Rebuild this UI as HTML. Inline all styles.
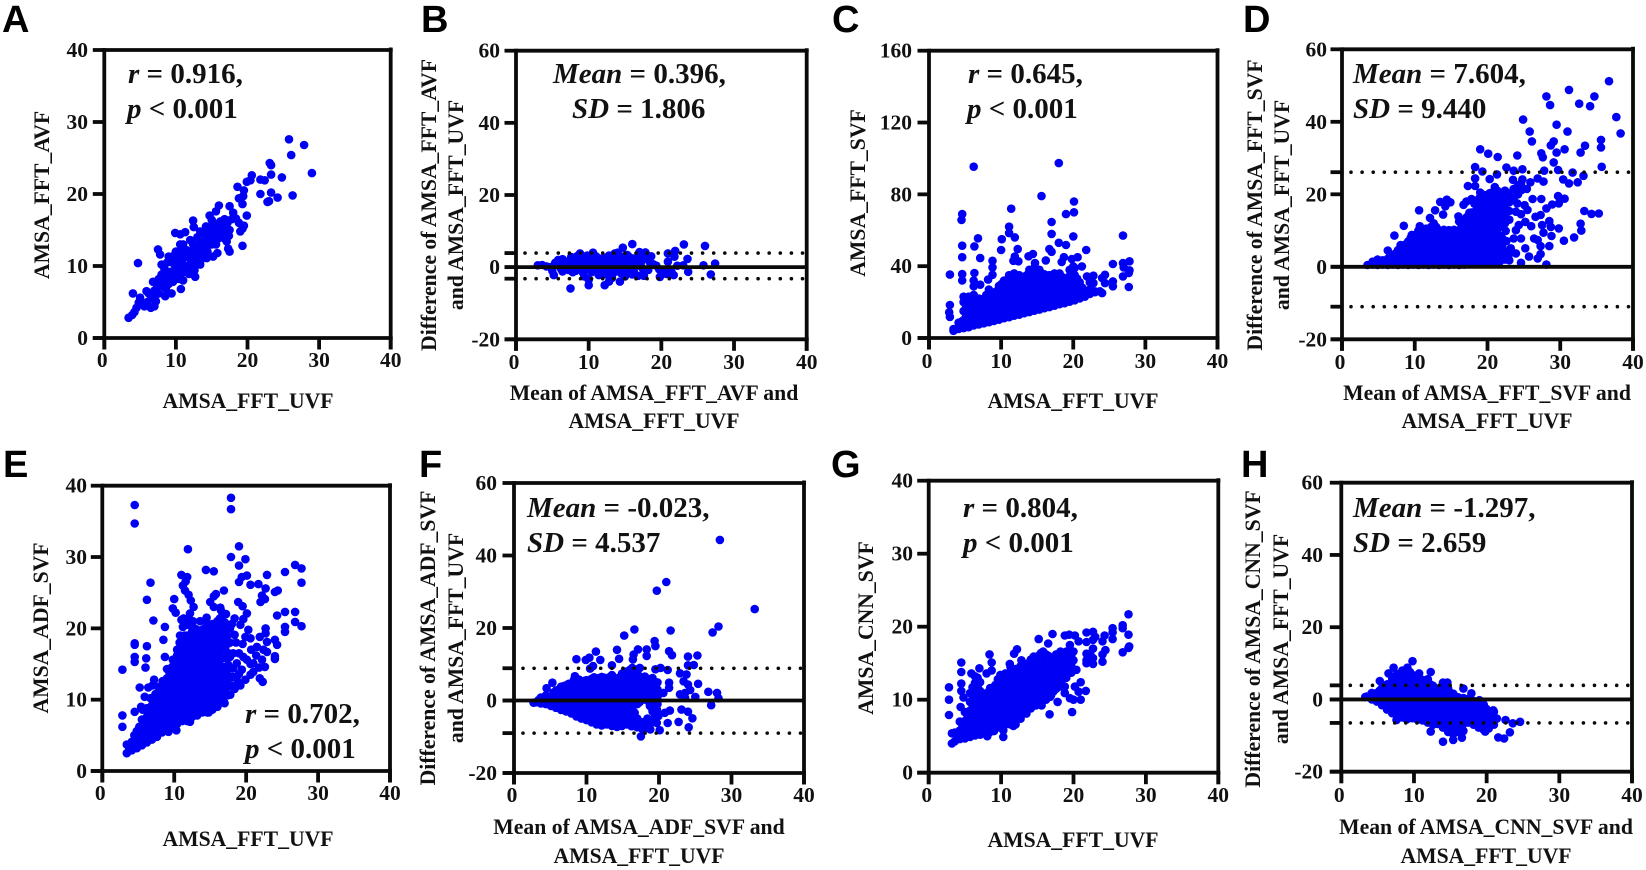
<!DOCTYPE html>
<html lang="en">
<head>
<meta charset="utf-8">
<title>AMSA agreement scatter and Bland-Altman plots</title>
<style>
html,body{margin:0;padding:0;background:#fff;width:1646px;height:870px;overflow:hidden}
svg{display:block}
text{font-family:"Liberation Serif",serif;font-weight:bold;fill:#111}
.letter{font-family:"Liberation Sans",sans-serif;font-size:38px;fill:#000}
.tick{font-size:21.5px}
.title{font-size:21.7px}
.annot{font-size:29px}
</style>
</head>
<body>
<svg id="figure" width="1646" height="870" viewBox="0 0 1646 870" xmlns="http://www.w3.org/2000/svg"></svg>
<script>
const xTicks=[0,10,20,30,40];
const yTicksScatter=[0,10,20,30,40];
const yTicksWide=[0,40,80,120,160];
const yTicksDiff=[-20,0,20,40,60];
const limitsB=[3.9,-3.2];
const limitsD=[26.1,-11];
const limitsF=[8.9,-9];
const limitsH=[3.9,-6.5];
const seriesA=[[25.8,27.6],[27.9,26.8],[26.1,25.4],[29,22.9],[26.3,19.8],[24.2,19.5],[22.8,18.9],[23,19],[23.3,20.2],[21.8,20],[24.8,22.3],[23.3,22.7],[23.1,24.3],[23.3,24],[22.4,21.9],[21.8,22],[20.6,22.6],[20.4,21.9],[19.9,21.7],[19.5,20.5],[18.6,21],[18.8,19.4],[19.4,19.7],[19.3,18.6],[19.9,17],[19.3,12.8],[19.5,15.6],[19,14.8],[17.5,18.3],[18,17.4],[17.5,12],[17.3,12.4],[17.1,13.4],[15.9,13.8],[15.8,11.8],[15.2,11.3],[14.3,11.1],[16,18.4],[15.6,17.6],[14.7,17],[12.4,16.3],[12.5,15.4],[9.9,14.6],[10.6,14.4],[11.3,14.7],[7.5,12.3],[7.8,11.6],[4.7,10.4],[4,6.2],[12.7,8.5],[10.7,6.8],[8.5,5.8],[3.4,2.8],[3.9,3.2],[4.2,3.6],[4.5,4.2],[4.8,4.9],[5.2,4.7],[5.6,4.4],[6,5],[6.2,6.2],[6.6,5.5],[6.5,4.2],[7,4.4],[7.2,5.1],[7,6.6],[7.4,7.2],[7.6,8.2],[8,8.8],[8.2,7.2],[8.6,6.8],[8.8,8],[8.4,9.6],[8,10.2],[8.5,9],[9,7.5],[9.4,6.2],[9.6,7.8],[9.2,9.2],[9.5,10.5],[9,11.3],[9.8,11.5],[10,9],[10.2,10],[10.4,11],[10.6,12],[10.8,9],[11,8],[11,10.2],[11.2,11.2],[11.5,12.2],[11.4,9.4],[11.8,8.9],[12,10],[12,11],[12.2,12],[12.4,13],[12.6,10],[12.8,11],[13,12],[13.2,13],[13,14],[13.4,10.2],[13.6,11],[13.8,12.5],[14,13.5],[14,14.5],[14.2,15.5],[14.4,12],[14.6,13],[14.8,14],[14.8,15.5],[15,16.4],[15.2,15],[15.4,14],[15.6,15.2],[16,15],[16.2,14.5],[16.5,15.5],[16.8,16.5],[17.2,16],[17.5,15],[17.8,16.5],[18.4,16.6],[18.8,16],[19.3,15.2],[17.4,14.2],[16.8,13.8]];
const coreA=[[10,12],[8.8,10.5],[7.6,6.2],[6.8,7.8],[5.9,6.5],[5,5.6],[11,13],[12,13.6],[13.4,14.8],[15,13],[14,11.6],[12.6,9.4],[11.6,10],[9.6,9.2],[10.4,8.2],[10.8,10.6],[11.8,11.6],[12.8,12.6],[13.6,13.4],[12.2,10.6],[13.2,11.6],[14.2,12.8],[9.4,8.4],[8.2,8.2],[10.4,9.4],[11.4,11.8],[12.6,11.8],[14.6,14.6],[15.4,15.8],[16.2,16.2],[15.6,13],[16.6,14.8],[17,15.2],[13.4,12.6],[14.4,14],[7.8,7.4],[7,5.8],[9.8,10.2],[10.6,13]];
const seriesB=[[16,6.4],[23.1,6.3],[26,5.9],[14.7,5.4],[21.9,4.5],[20.9,3.8],[21.8,2.9],[23.6,2.3],[20.9,1.5],[27.4,1],[25.8,.5],[23,.5],[22.2,.4],[23.7,-1.3],[26.8,-2],[21.7,-2.2],[20.7,-1.9],[19.8,-2.7],[7.5,-5.9],[10,-5],[12.2,-5],[12.8,-4],[14.3,-4],[3,.5],[3.6,.6],[4.2,.2],[4.8,0],[5,-1],[5.2,-2.2],[5.4,1.2],[5.8,2],[6,.5],[6.2,-.5],[6.4,2.2],[6.6,1],[7,0],[7.2,-.8],[7.4,1.8],[7.6,2.8],[8,.6],[8.2,-1],[8.4,2],[8.6,3.2],[8.8,3.8],[9,.5],[9.2,-1.5],[9.4,-2.6],[9.5,1.5],[9.8,3.2],[10,-3.5],[10.2,.2],[10.4,-1.4],[10.6,2],[10.6,4],[11,3],[11,.8],[11.2,-1],[11.4,-2.2],[11.8,1.6],[12,-.4],[12.2,2.6],[12.4,-2],[12.6,.8],[12.8,3.2],[13,-1.2],[13.2,-3],[13.4,1.8],[13.6,3.8],[13.8,-.2],[14,4],[14.2,1],[14.4,-1.6],[14.6,2.6],[14.9,.2],[15,-2.6],[15.3,3.4],[15.6,1.2],[15.8,-1],[16,-2],[16.2,2.4],[16.5,.4],[16.8,-2.4],[17,4.2],[17.3,1.8],[17.5,-.6],[17.6,-2.4],[17.8,4.1],[18,2.8],[18.2,-.8],[18.6,3],[18.9,.8],[19.3,.4],[19.7,-.6],[20.3,-1.4],[21,-1.6],[21.4,-1.4]];
const coreB=[[6.8,-.2],[7.8,1],[8.8,-.4],[9.6,.6],[10.8,-.2],[11.6,.4],[12.2,1.2],[13,1],[13.5,0],[14,-.8],[14.5,.4],[15.2,1],[15.4,-.4],[16.6,1.2],[17.2,.2],[18.4,1.4],[15.6,2.8],[14.4,3],[11.5,2.4],[9,2.4],[7.8,-1.4],[6.4,-1.2],[8.2,.4],[10,1.4],[11,2],[12.6,2],[13.8,1.8],[15,1.8],[16,.2],[17,3],[9.5,-.6],[10.6,-1],[12,-1.4],[13.4,-1.6],[14.8,-1],[16.2,-1],[6,1.2],[7.2,1.6],[8.4,3]];
const seriesC=[[6.2,95.4],[18,97.4],[15.6,79],[20.1,76],[20.1,70],[19,69],[11.4,72],[4.6,69],[4.5,65.7],[17,64.6],[11.1,62],[11.1,58.4],[11.9,56],[17,58],[20,56.6],[26.9,57],[6.8,55.5],[10.1,55],[18,53],[19,51.8],[4.6,51.4],[6.3,51],[10,49],[12.3,49.5],[16.7,49.5],[17,48],[21.8,49],[4.6,45],[7.1,44.5],[8.8,43],[13.8,45.5],[14.4,46.8],[11.9,45.4],[11.7,43],[12.4,42.7],[14.7,41.7],[16.2,43.2],[18.7,45],[18.4,42.3],[19.8,44],[20.6,45],[25.5,41.2],[26.9,41.7],[27.8,42.7],[27,39.3],[27.8,37.7],[26.9,34.3],[27.7,36.2],[27.7,28.4],[25.5,31.5],[25.5,28.8],[24.4,35.2],[24,33.4],[24.4,30.6],[24,25],[22.8,34.7],[21.9,34.3],[22.8,30.6],[21.2,39.9],[20,39.9],[2.9,35.3],[4.6,35.6],[4.6,32],[6.3,36.2],[6.2,32],[6.2,28.8],[7.1,29.7],[8.2,32.5],[8.8,35.2],[8.8,39.3],[2.9,18.4],[2.8,14.3],[2.9,11.7],[3.4,4],[3.4,5],[4.1,5],[4.1,8.5],[4.8,5.5],[4.8,10],[4.8,15],[4.8,20],[4.8,23],[5.5,6],[5.5,10.5],[5.5,15.5],[5.5,20.5],[5.5,23],[6.2,7],[6.2,11.8],[6.2,16.6],[6.2,21.4],[6.2,24],[6.9,7.5],[6.9,12],[6.9,17],[6.9,22],[7.6,8.2],[7.6,13],[7.6,17.8],[7.6,22],[8.3,8.8],[8.3,13.6],[8.3,18.4],[8.3,23],[8.3,27],[9,9.5],[9,14.3],[9,19],[9,24],[9.7,10.2],[9.7,15],[9.7,19.8],[9.7,24.6],[9.7,29],[10.4,11],[10.4,15.8],[10.4,20.6],[10.4,25.4],[10.4,30.2],[10.4,32],[11.1,11.6],[11.1,16.4],[11.1,21.2],[11.1,26],[11.1,30.8],[11.1,35],[11.8,12.4],[11.8,17.2],[11.8,22],[11.8,26.8],[11.8,31.6],[11.8,36],[12.5,13],[12.5,17.8],[12.5,22.6],[12.5,27.4],[12.5,32.2],[12.5,35],[13.2,13.8],[13.2,18.6],[13.2,23.4],[13.2,28.2],[13.2,33],[13.9,14.4],[13.9,19.2],[13.9,24],[13.9,28.8],[13.9,33.6],[13.9,38],[14.6,15.2],[14.6,20],[14.6,24.8],[14.6,29.6],[14.6,34.4],[14.6,39],[15.3,15.8],[15.3,20.6],[15.3,25.4],[15.3,30.2],[15.3,35],[15.3,38],[16,16.6],[16,21.4],[16,26.2],[16,31],[16,35.5],[16.7,17.2],[16.7,22],[16.7,26.8],[16.7,31.6],[16.7,35],[17.4,18],[17.4,22.8],[17.4,27.6],[17.4,32.4],[17.4,36],[18.1,18.8],[18.1,23.6],[18.1,28.4],[18.1,33],[18.1,36],[18.8,19.4],[18.8,24],[18.8,29],[18.8,33],[19.5,20.2],[19.5,25],[19.5,30],[19.5,34.5],[19.5,38],[20.2,21],[20.2,25.8],[20.2,30.5],[20.2,35],[20.2,39],[20.9,22],[20.9,26.5],[20.9,31],[21.6,23],[21.6,25.5],[22.3,24.5],[22.3,27],[22.3,31],[23,25.5],[23,26],[23.7,26]];
const coreC=[[3.75,5],[4.45,6.5],[4.45,9],[5.15,7.5],[5.15,12],[5.15,17],[5.15,21.5],[5.85,8.5],[5.85,13],[5.85,18],[5.85,22],[6.55,9],[6.55,14],[6.55,19],[7.25,10],[7.25,14.5],[7.25,19.5],[7.95,10.5],[7.95,15.5],[7.95,20],[7.95,24],[8.65,11],[8.65,16],[8.65,21],[8.65,25],[9.35,12],[9.35,16.5],[9.35,21.5],[9.35,26],[10.05,12.5],[10.05,17.5],[10.05,22],[10.05,27],[10.05,30],[10.75,13.5],[10.75,18],[10.75,23],[10.75,28],[10.75,32],[11.45,14],[11.45,19],[11.45,23.5],[11.45,28.5],[11.45,33],[12.15,15],[12.15,19.5],[12.15,24.5],[12.15,29],[12.15,34],[12.85,15.5],[12.85,20.5],[12.85,25],[12.85,30],[12.85,34],[13.55,16],[13.55,21],[13.55,26],[13.55,30.5],[13.55,35],[14.25,17],[14.25,21.5],[14.25,26.5],[14.25,31],[14.25,36],[14.95,17.5],[14.95,22.5],[14.95,27],[14.95,32],[14.95,36.5],[15.65,18],[15.65,23],[15.65,28],[15.65,32.5],[15.65,36],[16.35,19],[16.35,24],[16.35,28.5],[16.35,33],[17.05,20],[17.05,24.5],[17.05,29],[17.05,34],[17.75,20.5],[17.75,25],[17.75,30],[17.75,34],[18.45,21],[18.45,26],[18.45,30.5],[18.45,34],[19.15,22],[19.15,26.5],[19.15,31],[19.85,23],[19.85,27.5],[19.85,32],[19.85,36],[20.55,23.5],[20.55,28],[20.55,33],[21.25,24.5],[21.25,28],[21.95,25.5]];
const seriesD=[[36.7,51.2],[31.2,48.8],[34.7,47],[28.1,47],[28.6,44.6],[32.6,45],[34.1,44.3],[24.9,40.6],[37.7,41.3],[29.5,39.2],[31,37.3],[25.8,37.3],[38.3,36.8],[26.1,34.6],[35.6,35],[35.6,32.9],[29.1,34.6],[28.7,33.5],[33.4,33.4],[30.6,32.4],[29.5,31.5],[32.8,31.5],[27.4,31.3],[27.6,30.2],[24.1,30.7],[19,32.4],[20.1,31.2],[21.4,30.3],[29.1,28.8],[35.7,27.6],[29.7,26.7],[22.6,27.4],[18.3,27.5],[19.3,26.3],[24.8,26.9],[23.6,26.5],[27.8,26.5],[31.7,26],[21.3,25.5],[18.3,24.4],[20.3,24.2],[26.9,24.4],[27.7,23.5],[24.8,24.1],[23.5,24],[30.4,24.1],[33.2,25.1],[32.4,23.3],[31.2,23],[25.9,23.3],[17.3,22.3],[18.3,22.3],[19,20.5],[25.4,21.5],[24.7,21.2],[26.2,18.7],[27.4,18.7],[29.7,19.5],[30.6,18.8],[29.8,17.5],[28.9,17.2],[28.1,16.1],[33.3,15.4],[34.3,14.6],[35.3,14.7],[27.3,14.3],[26.6,13.8],[25.5,15.7],[24.6,14.5],[25.2,12.4],[26,11.2],[28.5,12.6],[27.5,11.5],[28.7,11],[29.8,10.6],[32.8,11.9],[32.9,10],[27.7,9.4],[28.8,8.5],[31.9,8.1],[30.5,7.2],[26.4,7.8],[26.9,7.4],[24.6,7.8],[23.6,7.8],[22.6,7.1],[22.5,9.9],[23.9,10.1],[24.3,11.5],[27.3,5.7],[28.5,5.7],[25.2,5.1],[23.2,5.1],[23.9,3.7],[25.7,2.8],[26.9,2.3],[27.3,3.5],[24.6,1.1],[28.1,.6],[24.1,17.5],[25.1,17],[23.9,15.2],[10.6,15.6],[8.5,11.3],[7.2,8.6],[6.3,4.5],[9.6,8.8],[10.7,11.2],[12.1,13.5],[12.8,15.6],[13.5,17.9],[14.4,18.5],[14.9,17.8],[14.2,16.7],[13.9,14.4],[16,13.9],[16.7,17.1],[17.8,18.7],[17.1,18],[3.5,.5],[4.2,.6],[4.2,1.4],[4.9,.5],[4.9,2],[5.6,.6],[5.6,1.8],[6.3,.5],[6.3,2.2],[7,.6],[7,3],[7.7,.5],[7.7,2.9],[7.7,4.6],[8.4,.6],[8.4,3],[8.4,5.4],[9.1,.5],[9.1,2.9],[9.1,5.3],[9.1,7],[9.8,.6],[9.8,3],[9.8,5.4],[9.8,7.8],[10.5,.5],[10.5,2.9],[10.5,5.3],[10.5,7.7],[10.5,10],[11.2,.6],[11.2,3],[11.2,5.4],[11.2,7.8],[11.2,10.2],[11.9,.5],[11.9,2.9],[11.9,5.3],[11.9,7.7],[11.9,10.1],[12.6,.6],[12.6,3],[12.6,5.4],[12.6,7.8],[12.6,10.2],[12.6,12],[13.3,.5],[13.3,2.9],[13.3,5.3],[13.3,7.7],[13.3,10.1],[14,.6],[14,3],[14,5.4],[14,7.8],[14,10.2],[14.7,.5],[14.7,2.9],[14.7,5.3],[14.7,7.7],[14.7,10.1],[15.4,.6],[15.4,3],[15.4,5.4],[15.4,7.8],[15.4,10.2],[16.1,.5],[16.1,2.9],[16.1,5.3],[16.1,7.7],[16.1,10.1],[16.1,12.5],[16.8,.6],[16.8,3],[16.8,5.4],[16.8,7.8],[16.8,10.2],[16.8,12.6],[17.5,.7],[17.5,2.9],[17.5,5.3],[17.5,7.7],[17.5,10.1],[17.5,12.5],[17.5,14.9],[18.2,.8],[18.2,3],[18.2,5.4],[18.2,7.8],[18.2,10.2],[18.2,12.6],[18.2,15],[18.2,17.4],[18.9,.9],[18.9,2.9],[18.9,5.3],[18.9,7.7],[18.9,10.1],[18.9,12.5],[18.9,14.9],[18.9,17.3],[18.9,19],[19.6,1],[19.6,3],[19.6,5.4],[19.6,7.8],[19.6,10.2],[19.6,12.6],[19.6,15],[19.6,17.4],[19.6,19.8],[20.3,1.2],[20.3,3.5],[20.3,5.9],[20.3,8.3],[20.3,10.7],[20.3,13.1],[20.3,15.5],[20.3,17.9],[20.3,20.3],[21,1.4],[21,3.2],[21,5.6],[21,8],[21,10.4],[21,12.8],[21,15.2],[21,17.6],[21,20],[21,22],[21.7,1.5],[21.7,3.7],[21.7,6.1],[21.7,8.5],[21.7,11],[21.7,13.3],[21.7,15.7],[21.7,18.1],[21.7,20.5],[22.4,2],[22.4,4.2],[22.4,12],[22.4,14.4],[22.4,16.8],[22.4,19.2],[22.4,21],[23,1.8],[23,3.6],[23,13],[23,15.4],[23,17.8],[23,20.2],[23.6,19],[23.6,21.5],[24.2,20],[24.2,22.5],[24.6,23]];
const coreD=[[5.25,1.2],[5.95,1.4],[6.65,1.4],[6.65,3.2],[7.35,1.7],[7.35,3.7],[8.05,1.7],[8.05,4.1],[8.05,6],[8.75,1.7],[8.75,4.1],[8.75,6.2],[9.45,1.7],[9.45,4.1],[9.45,6.5],[9.45,8],[10.15,1.7],[10.15,4.1],[10.15,6.5],[10.15,8.9],[10.85,1.7],[10.85,4.1],[10.85,6.5],[10.85,8.9],[11.55,1.7],[11.55,4.1],[11.55,6.5],[11.55,8.9],[11.55,10.5],[12.25,1.7],[12.25,4.1],[12.25,6.5],[12.25,8.9],[12.25,11],[12.95,1.7],[12.95,4.1],[12.95,6.5],[12.95,8.9],[12.95,11],[13.65,1.7],[13.65,4.1],[13.65,6.5],[13.65,9],[14.35,1.7],[14.35,4.1],[14.35,6.5],[14.35,9],[15.05,1.7],[15.05,4.1],[15.05,6.5],[15.05,9],[15.75,1.7],[15.75,4.1],[15.75,6.5],[15.75,9],[16.45,1.7],[16.45,4.1],[16.45,6.5],[16.45,8.9],[16.45,11.3],[17.15,1.7],[17.15,4.1],[17.15,6.5],[17.15,8.9],[17.15,11.3],[17.15,13.7],[17.85,1.7],[17.85,4.1],[17.85,6.5],[17.85,8.9],[17.85,11.3],[17.85,13.7],[17.85,15],[18.55,1.8],[18.55,4.1],[18.55,6.5],[18.55,8.9],[18.55,11.3],[18.55,13.7],[18.55,16],[19.25,2],[19.25,4.1],[19.25,6.5],[19.25,8.9],[19.25,11.3],[19.25,13.7],[19.25,16.1],[19.25,18],[19.95,2.2],[19.95,4.4],[19.95,6.8],[19.95,9.2],[19.95,11.6],[19.95,14],[19.95,16.4],[19.95,19],[20.65,2.4],[20.65,4.6],[20.65,7],[20.65,9.4],[20.65,11.8],[20.65,14.2],[20.65,16.6],[20.65,19],[20.65,20.5],[21.35,2.6],[21.35,4.4],[21.35,6.8],[21.35,9.2],[21.35,11.6],[21.35,14],[21.35,16.4],[21.35,18.8],[21.35,21],[22.05,3],[22.05,5.4],[22.05,7.8],[22.05,13],[22.05,15.4],[22.05,17.8],[22.05,20]];
const seriesE=[[4.5,37.3],[4.5,34.7],[17.9,38.3],[17.9,36.7],[11.9,31.1],[19,31.5],[17.9,30],[19.9,29.7],[19,28.8],[26.8,28.9],[27.7,28.4],[25.4,27.9],[27.7,26.4],[22.9,27.5],[20.1,27.4],[19.4,27.2],[19,26.5],[20.6,26.1],[21.7,26.2],[22.7,25.6],[24,25.1],[24.4,25.3],[22.2,24.6],[22.6,24.1],[22,23.7],[14.4,28.2],[15.5,28],[11,27.5],[11.8,27.2],[11.6,26.6],[11.2,26],[6.7,26.4],[11.5,25.3],[12,24.7],[10,24.1],[6.2,24],[12.3,23.9],[12.7,23],[9.8,22.8],[10.2,22.2],[12.2,22.1],[11.3,21.4],[7.1,21.1],[16.9,25.3],[15.8,24.8],[15.5,24.5],[15,23.7],[15.5,23],[16.4,22.9],[18.9,23.7],[19.5,23.1],[20.1,22.1],[25.4,22.3],[26.8,22.3],[26.8,20.9],[27.7,20.3],[25.4,20.2],[25.4,19.5],[24.3,21.8],[22.7,20],[18.4,21.4],[19.6,21.3],[19.2,20.5],[8.7,20.2],[8.5,18.4],[4.5,17.9],[4.5,17.7],[6.2,17.5],[8.7,16],[4.5,16],[4.5,15.3],[6.1,15.8],[6,14.5],[2.8,14.2],[2.8,7.8],[2.8,6.2],[5.2,11.7],[6.4,11.7],[5.9,10.4],[7.2,12.8],[7.8,11.8],[4.5,8.3],[5.6,8.6],[20.3,19.8],[19.9,18.8],[18.4,19.1],[19.5,17.8],[20.6,18.6],[21.9,18.8],[22.7,19.3],[21.5,17.4],[22.4,17],[22.9,18.1],[24,18.4],[24.3,17.7],[24,16.1],[24,15.7],[22.9,16.7],[22.2,15.6],[22.6,14.6],[21,15.1],[20.1,15.6],[18.7,15.1],[17.3,15.9],[17.5,14.9],[18.2,14.4],[19.4,14.2],[21,13.9],[21.9,13],[22.3,12.5],[19.9,12.8],[18.9,12.5],[18.2,13.2],[17.8,10.7],[16.3,9.5],[14.8,8.2],[12.2,6.9],[10.3,5.7],[9.2,5.5],[3.4,2.5],[3.4,3.7],[4.1,2.9],[4.1,4.1],[4.8,3.2],[4.8,4.4],[4.8,5.6],[5.5,3.6],[5.5,4.8],[5.5,6],[5.5,7.2],[6.2,4],[6.2,5.2],[6.2,6.4],[6.2,7.6],[6.2,8.8],[6.9,4.4],[6.9,5.6],[6.9,6.8],[6.9,8],[6.9,9.2],[7.6,4.8],[7.6,6],[7.6,7.2],[7.6,8.4],[7.6,9.6],[8.3,5.4],[8.3,6.6],[8.3,7.8],[8.3,9],[8.3,10.2],[8.3,11.4],[9,5.8],[9,7],[9,8.2],[9,9.4],[9,10.6],[9,11.8],[9,13],[9.7,6.2],[9.7,7.4],[9.7,8.6],[9.7,9.8],[9.7,11],[9.7,12.2],[9.7,13.4],[9.7,14.6],[10.4,6.6],[10.4,7.8],[10.4,9],[10.4,10.2],[10.4,11.4],[10.4,12.6],[10.4,13.8],[10.4,15],[10.4,16.2],[10.4,17],[11.1,7],[11.1,8.2],[11.1,9.4],[11.1,10.6],[11.1,11.8],[11.1,13],[11.1,14.2],[11.1,15.4],[11.1,16.6],[11.1,17.6],[11.8,7],[11.8,8.2],[11.8,9.4],[11.8,10.6],[11.8,11.8],[11.8,13],[11.8,14.2],[11.8,15.4],[11.8,16.6],[11.8,17.8],[11.8,19],[12.5,7.6],[12.5,8.8],[12.5,10],[12.5,11.2],[12.5,12.4],[12.5,13.6],[12.5,14.8],[12.5,16],[12.5,17.2],[12.5,18.4],[12.5,19.6],[13.2,7.8],[13.2,9],[13.2,10.2],[13.2,11.4],[13.2,12.6],[13.2,13.8],[13.2,15],[13.2,16.2],[13.2,17.4],[13.2,18.6],[13.2,19.8],[13.9,8.2],[13.9,9.4],[13.9,10.6],[13.9,11.8],[13.9,13],[13.9,14.2],[13.9,15.4],[13.9,16.6],[13.9,17.8],[13.9,19],[13.9,19.8],[14.6,8.2],[14.6,9.4],[14.6,10.6],[14.6,11.8],[14.6,13],[14.6,14.2],[14.6,15.4],[14.6,16.6],[14.6,17.8],[14.6,19],[14.6,20.6],[15.3,8.6],[15.3,9.8],[15.3,11],[15.3,12.2],[15.3,13.4],[15.3,14.6],[15.3,15.8],[15.3,17],[15.3,18.2],[15.3,19.4],[15.3,20.6],[16,9],[16,10.2],[16,11.4],[16,12.6],[16,13.8],[16,15],[16,16.2],[16,17.4],[16,18.6],[16,19.8],[16,21],[16.7,9.8],[16.7,11],[16.7,12.2],[16.7,13.4],[16.7,14.6],[16.7,15.8],[16.7,17],[16.7,18.2],[16.7,19.4],[16.7,20.6],[16.7,21.8],[17.4,10.6],[17.4,11.8],[17.4,13],[17.4,14.2],[17.4,16.6],[17.4,17.8],[17.4,19],[17.4,20.5],[18,12],[18,13.2],[18,20.6]];
const coreE=[[3.75,3.1],[4.45,3.7],[4.45,5],[5.15,3.8],[5.15,5],[5.15,6.2],[5.85,4.5],[5.85,5.6],[5.85,6.8],[6.55,4.8],[6.55,6],[6.55,7.2],[6.55,8.4],[7.25,5],[7.25,6.2],[7.25,7.4],[7.25,8.6],[7.25,9.8],[7.95,5.5],[7.95,6.7],[7.95,7.9],[7.95,9.1],[7.95,10.3],[8.65,6.2],[8.65,7.4],[8.65,8.6],[8.65,9.8],[8.65,11],[8.65,12.2],[9.35,6.6],[9.35,7.8],[9.35,9],[9.35,10.2],[9.35,11.4],[9.35,12.6],[9.35,13.8],[10.05,7],[10.05,8.2],[10.05,9.4],[10.05,10.6],[10.05,11.8],[10.05,13],[10.05,14.2],[10.05,15.2],[10.75,7.4],[10.75,8.6],[10.75,9.8],[10.75,11],[10.75,12.2],[10.75,13.4],[10.75,14.6],[10.75,15.8],[10.75,17],[10.75,18],[11.45,7.6],[11.45,8.8],[11.45,10],[11.45,11.2],[11.45,12.4],[11.45,13.6],[11.45,14.8],[11.45,16],[11.45,17.2],[11.45,18.4],[11.45,19],[12.15,8],[12.15,9.2],[12.15,10.4],[12.15,11.6],[12.15,12.8],[12.15,14],[12.15,15.2],[12.15,16.4],[12.15,17.6],[12.15,18.8],[12.15,20.5],[12.85,8.2],[12.85,9.4],[12.85,10.6],[12.85,11.8],[12.85,13],[12.85,14.2],[12.85,15.4],[12.85,16.6],[12.85,17.8],[12.85,19],[12.85,20],[13.55,8.6],[13.55,9.8],[13.55,11],[13.55,12.2],[13.55,13.4],[13.55,14.6],[13.55,15.8],[13.55,17],[13.55,18.2],[13.55,19.4],[14.25,8.8],[14.25,10],[14.25,11.2],[14.25,12.4],[14.25,13.6],[14.25,14.8],[14.25,16],[14.25,17.2],[14.25,18.4],[14.25,20],[14.95,9],[14.95,10.2],[14.95,11.4],[14.95,12.6],[14.95,13.8],[14.95,15],[14.95,16.2],[14.95,17.4],[14.95,18.6],[14.95,19.8],[15.65,9.4],[15.65,10.6],[15.65,11.8],[15.65,13],[15.65,14.2],[15.65,15.4],[15.65,16.6],[15.65,17.8],[15.65,19],[15.65,20.2],[16.35,10],[16.35,11.2],[16.35,12.4],[16.35,13.6],[16.35,14.8],[16.35,16],[16.35,17.2],[16.35,18.4],[16.35,19.6],[16.35,21.4],[17.05,10.8],[17.05,12],[17.05,13.2],[17.05,14.4],[17.05,17.2],[17.05,18.4],[17.05,19.6],[17.05,20.8],[17.75,12],[17.75,13.2],[17.75,14.4],[17.75,16],[17.75,18],[17.75,20],[10.8,19],[11.2,20.2],[11,21.2],[11.8,20.5],[12,21],[12.6,21],[13.6,21],[14.5,21.5],[16.5,22.5],[17.2,22],[18.6,18],[19,16.5],[18.2,16.5],[19.6,16],[19,13.6],[20.6,15],[20.6,13.5],[19.2,12],[18.4,11.5],[17,9.5],[21.4,16.2],[20.7,17],[21.8,14.5],[9.8,15.6],[9,14.3],[8.4,12.6],[8,11],[7.4,10.8],[6.7,10.2],[5.4,9],[7,12]];
const seriesF=[[28.4,44.3],[21,32.7],[19.7,30.3],[33.2,25.2],[28.2,20.4],[27.4,18.8],[21.6,19.3],[16.6,19.6],[15.2,17.9],[19.4,16.4],[19.5,15],[18.3,14.1],[17.1,14.1],[14.2,14],[11.3,13.5],[8.6,11.4],[9.9,11.2],[10.4,11.8],[11.9,11.2],[14.5,11.5],[16.5,12.7],[16.4,11.3],[18.3,12.3],[21.4,13.6],[21.8,12.5],[24,12.1],[25.3,12.4],[24,9.7],[24.8,9.8],[10.5,8.8],[10.9,9.5],[13.5,9.7],[20.2,9],[21.2,8.4],[19.5,8.6],[22.9,7.5],[23.8,7.2],[23.4,5.3],[24,4.4],[25.4,4.6],[21.4,4.9],[21.4,3.5],[26.8,2.4],[28,2.1],[28.2,.6],[27.2,-1.3],[22.9,1.7],[23.6,2.1],[23.6,.7],[24.3,2.9],[25,1],[23.1,-2.5],[24,-3.1],[24.6,-4.9],[22.7,-5.9],[24.1,-7.4],[21.5,-2.8],[20.8,-3.4],[21.2,-6.2],[20.1,-8.2],[18.8,-8],[17.5,-9.9],[4.5,3.4],[5.3,4.9],[8.4,6.7],[19.7,4.9],[20.6,2.1],[19.7,-2.5],[19.9,-4.3],[19.7,-6.2],[18.3,-7.5],[16.2,-7.1],[14.2,-7.3],[2.7,-.6],[3.4,.1],[3,-.5],[3.7,-.8],[3.7,.8],[4.4,-1],[4.4,1.4],[5.1,-1.5],[5.1,.9],[5.8,-2],[5.8,.4],[5.8,2.8],[6.5,-2.6],[6.5,-.2],[6.5,2.2],[6.5,3.8],[7.2,-3],[7.2,-.6],[7.2,1.8],[7.2,4.2],[7.9,-3.6],[7.9,-1.2],[7.9,1.2],[7.9,3.6],[7.9,4.6],[8.6,-4.4],[8.6,-2],[8.6,.4],[8.6,2.8],[8.6,5.2],[9.3,-5],[9.3,-2.6],[9.3,-.2],[9.3,2.2],[9.3,4.6],[10,-5.4],[10,-3],[10,-.6],[10,1.8],[10,4.2],[10,5.6],[10.7,-6],[10.7,-3.6],[10.7,-1.2],[10.7,1.2],[10.7,3.6],[10.7,6],[11.4,-6.6],[11.4,-4.2],[11.4,-1.8],[11.4,.6],[11.4,3],[11.4,5.4],[12.1,-6.9],[12.1,-4.5],[12.1,-2.1],[12.1,.3],[12.1,2.7],[12.1,5.1],[12.1,6.5],[12.8,-6.6],[12.8,-4.2],[12.8,-1.8],[12.8,.6],[12.8,3],[12.8,5.4],[13.5,-7],[13.5,-4.6],[13.5,-2.2],[13.5,.2],[13.5,2.6],[13.5,5],[13.5,7],[14.2,-6.8],[14.2,-4.4],[14.2,-2],[14.2,.4],[14.2,2.8],[14.2,5.2],[14.9,-7],[14.9,-4.6],[14.9,-2.2],[14.9,.2],[14.9,2.6],[14.9,5],[14.9,7.4],[15.6,-6.6],[15.6,-4.2],[15.6,-1.8],[15.6,.6],[15.6,3],[15.6,5.4],[15.6,7.8],[16.3,-7],[16.3,-4.6],[16.3,-2.2],[16.3,.2],[16.3,2.6],[16.3,5],[16.3,7.4],[16.3,9],[17,-7.4],[17,-5],[17,-1],[17,.6],[17,3],[17,5.4],[17,7.8],[17.7,-7.8],[17.7,-6],[17.7,.2],[17.7,2.6],[17.7,5],[17.7,6.4],[18.4,-7],[18.4,-5],[18.4,0],[18.4,2],[18.4,4],[18.4,6],[19.1,-6],[19.1,-3],[19.1,-.6],[19.1,1.8],[19.1,4.2],[19.1,6.2],[19.8,-3.5],[19.8,-1],[19.8,1],[19.8,3],[19.8,5]];
const coreF=[[4.05,0],[4.75,-.4],[4.75,.9],[5.45,-1],[5.45,1.4],[5.45,2.2],[6.15,-1.4],[6.15,1],[6.15,3],[6.85,-2.2],[6.85,.2],[6.85,2.6],[6.85,4],[7.55,-2.4],[7.55,0],[7.55,2.4],[7.55,4.6],[8.25,-3],[8.25,-.6],[8.25,1.8],[8.25,4.2],[8.25,5.6],[8.95,-3.8],[8.95,-1.4],[8.95,1],[8.95,3.4],[8.95,5.8],[9.65,-4.2],[9.65,-1.8],[9.65,.6],[9.65,3],[9.65,5.4],[10.35,-4.6],[10.35,-2.2],[10.35,.2],[10.35,2.6],[10.35,5],[11.05,-5.2],[11.05,-2.8],[11.05,-.4],[11.05,2],[11.05,4.4],[11.05,6.4],[11.75,-5.4],[11.75,-3],[11.75,-.6],[11.75,1.8],[11.75,4.2],[11.75,6.2],[12.45,-5.7],[12.45,-3.3],[12.45,-.9],[12.45,1.5],[12.45,3.9],[12.45,6.3],[13.15,-5.4],[13.15,-3],[13.15,-.6],[13.15,1.8],[13.15,4.2],[13.15,6.4],[13.85,-5.8],[13.85,-3.4],[13.85,-1],[13.85,1.4],[13.85,3.8],[13.85,6.2],[14.55,-5.6],[14.55,-3.2],[14.55,-.8],[14.55,1.6],[14.55,4],[14.55,6.4],[15.25,-5.8],[15.25,-3.4],[15.25,-1],[15.25,1.4],[15.25,3.8],[15.25,6.2],[15.25,8],[15.95,-5.4],[15.95,-3],[15.95,-.6],[15.95,1.8],[15.95,4.2],[15.95,6.6],[15.95,8.4],[16.65,-5.8],[16.65,-3.4],[16.65,-1],[16.65,1.4],[16.65,3.8],[16.65,6.2],[16.65,8.6],[17.35,-6.2],[17.35,-.4],[17.35,1.8],[17.35,4.2],[17.35,6.6],[17.35,9],[18.05,-6.6],[18.05,.6],[18.05,3],[18.05,5.2],[18.05,6.6],[18.75,-5.5],[18.75,-1.5],[18.75,1],[18.75,3],[18.75,5],[19.45,-4.5],[19.45,-2],[19.45,0],[19.45,2.4],[19.45,4.6]];
const seriesG=[[27.6,21.7],[26.8,20.2],[26.8,19.8],[25.4,19.8],[25.4,19.2],[25.4,18.3],[27.6,18.9],[27.7,17.3],[27.6,17.1],[26.8,16.5],[24.3,18.8],[24,18],[24.4,16.8],[24,16.2],[24,15.2],[22.7,19.3],[21.8,19.2],[20.2,18.8],[19.4,18.9],[18.8,18.8],[17.1,19],[15.2,18.3],[16.5,17.7],[19.5,17.5],[20.7,18],[12.2,16.9],[11.8,16.3],[8.4,16.2],[12.8,15.4],[8.7,15.1],[4.5,15.1],[4.5,13.8],[7,14.3],[8.7,14],[5.9,13.6],[4.5,12.2],[2.8,11.7],[2.8,10],[4.5,11.2],[4.8,10.3],[2.8,7.9],[4.4,9],[8,13.6],[11.2,14.9],[14.5,15.9],[15.8,16.6],[18.2,16.6],[16.7,8],[19.8,8.3],[17.8,9.7],[15.6,9.2],[14.2,9.2],[13.5,8.1],[11.7,6.4],[10.3,5.8],[10.3,4.9],[8.1,5],[9,5.7],[3.2,4],[3.2,5.4],[21,12.4],[21.7,11.2],[21,10],[20,10],[19.5,10.2],[20.2,11.8],[20.7,11.1],[18.8,11.8],[18.8,10.9],[20.4,14.1],[20,15.4],[20,16.6],[19.3,16.3],[18.6,15],[17.9,15.4],[19,13.6],[18.1,11.8],[17.2,11.1],[16.8,10.4],[21.8,15.4],[22.7,14.9],[21.8,15],[22.7,15.7],[22.7,17],[22.7,18.2],[21.8,17.9],[22.3,16.3],[21.8,16.3],[23,18.6],[3.6,4.3],[3.6,5.5],[4.3,4.6],[4.3,5.8],[4.3,7],[5,4.7],[5,5.9],[5,7.1],[5,8.3],[5.7,4.9],[5.7,6.1],[5.7,7.3],[5.7,8.5],[5.7,9.7],[5.7,10.9],[6.4,5.1],[6.4,6.3],[6.4,7.5],[6.4,8.7],[6.4,9.9],[6.4,11.1],[6.4,12.3],[6.4,13.2],[7.1,5.2],[7.1,6.4],[7.1,7.6],[7.1,8.8],[7.1,10],[7.1,11.2],[7.1,12.4],[7.8,5.4],[7.8,6.6],[7.8,7.8],[7.8,9],[7.8,10.2],[8.5,5.6],[8.5,6.8],[8.5,8],[8.5,9.2],[8.5,10.4],[8.5,11.6],[9.2,6],[9.2,7.2],[9.2,8.4],[9.2,9.6],[9.2,10.8],[9.2,12],[9.9,6.2],[9.9,7.4],[9.9,8.6],[9.9,9.8],[9.9,11],[9.9,12.2],[9.9,13.4],[10.6,6.6],[10.6,7.8],[10.6,9],[10.6,10.2],[10.6,11.4],[10.6,12.6],[10.6,13.6],[11.3,6.6],[11.3,7.8],[11.3,9],[11.3,10.2],[11.3,11.4],[11.3,12.6],[11.3,13.8],[11.3,14.5],[12,6.6],[12,7.8],[12,9],[12,10.2],[12,11.4],[12,12.6],[12,13.8],[12,14.2],[12.7,7.4],[12.7,8.6],[12.7,9.8],[12.7,11],[12.7,12.2],[12.7,13.4],[12.7,14.6],[13.4,8.4],[13.4,9.6],[13.4,10.8],[13.4,12],[13.4,13.2],[13.4,14.4],[14.1,8.8],[14.1,10],[14.1,11.2],[14.1,12.4],[14.1,13.6],[14.1,14.8],[14.1,15.5],[14.8,9.2],[14.8,10.4],[14.8,11.6],[14.8,12.8],[14.8,14],[14.8,15.2],[14.8,15.8],[15.5,9.6],[15.5,10.8],[15.5,12],[15.5,13.2],[15.5,14.4],[15.5,15.6],[15.5,16.4],[16.2,10],[16.2,11.2],[16.2,12.4],[16.2,13.6],[16.2,14.8],[16.2,16.2],[16.9,10.6],[16.9,11.8],[16.9,13],[16.9,14.2],[16.9,15.8],[17.6,11.5],[17.6,12.7],[17.6,13.9],[17.6,15.1],[17.6,16.2],[18.3,12.5],[18.3,13.7],[18.3,14.9],[18.3,16],[19,13],[19,14.2],[19,15.4],[19,16.6],[19.7,13.7],[19.7,14.9],[19.7,16]];
const coreG=[[3.95,5.2],[4.65,5.3],[4.65,6.5],[5.35,5.5],[5.35,6.7],[5.35,7.9],[6.05,5.7],[6.05,6.9],[6.05,8.1],[6.05,9.3],[6.05,10.5],[6.05,11.7],[6.75,5.8],[6.75,7],[6.75,8.2],[6.75,9.4],[6.75,10.6],[6.75,11.8],[6.75,13],[7.45,6],[7.45,7.2],[7.45,8.4],[7.45,9.6],[7.45,10.8],[8.15,6.2],[8.15,7.4],[8.15,8.6],[8.15,9.8],[8.15,11],[8.85,6.6],[8.85,7.8],[8.85,9],[8.85,10.2],[8.85,11.4],[9.55,6.8],[9.55,8],[9.55,9.2],[9.55,10.4],[9.55,11.6],[9.55,12.8],[10.25,7.2],[10.25,8.4],[10.25,9.6],[10.25,10.8],[10.25,12],[10.25,13.2],[10.95,7.2],[10.95,8.4],[10.95,9.6],[10.95,10.8],[10.95,12],[10.95,13.2],[11.65,7.2],[11.65,8.4],[11.65,9.6],[11.65,10.8],[11.65,12],[11.65,13.2],[11.65,14.2],[12.35,8],[12.35,9.2],[12.35,10.4],[12.35,11.6],[12.35,12.8],[12.35,14],[13.05,9],[13.05,10.2],[13.05,11.4],[13.05,12.6],[13.05,13.8],[13.75,9.4],[13.75,10.6],[13.75,11.8],[13.75,13],[13.75,14.2],[13.75,15],[14.45,9.8],[14.45,11],[14.45,12.2],[14.45,13.4],[14.45,14.6],[14.45,15.4],[15.15,10.2],[15.15,11.4],[15.15,12.6],[15.15,13.8],[15.15,15],[15.15,16],[15.85,10.6],[15.85,11.8],[15.85,13],[15.85,14.2],[15.85,15.4],[15.85,16.4],[16.55,11.2],[16.55,12.4],[16.55,13.6],[16.55,14.8],[16.55,16],[17.25,12],[17.25,13.2],[17.25,14.4],[17.25,15.6],[17.95,13],[17.95,14.2],[17.95,15.4],[18.65,13.6],[18.65,14.8],[18.65,16],[19.35,14.4],[19.35,15.6]];
const seriesH=[[9.8,10.6],[7.2,8.8],[6.5,7.2],[5.3,5.1],[12.3,7.6],[10.7,7.2],[14,4.7],[14.6,4.7],[16.8,3],[17.9,1.7],[19,-.2],[19.5,-1.6],[20.9,-3],[21.4,-5.3],[22.6,-5.7],[24.6,-6.2],[23.6,-6.6],[23.2,-9.1],[22.4,-10.8],[21.6,-10.5],[19.8,-8.9],[14,-11.7],[12.3,-8.9],[15.4,-11.2],[16.6,-10.6],[16.8,-8.7],[7.6,-5.7],[9,-5.5],[3.3,.7],[3.5,.8],[4.2,0],[4.2,1.8],[4.9,-.6],[4.9,1.8],[5.6,-1.6],[5.6,.8],[5.6,3.2],[6.3,-2.8],[6.3,-.4],[6.3,2],[6.3,4.2],[7,-3.8],[7,-1.4],[7,1],[7,3.4],[7,5.6],[7.7,-4.6],[7.7,-2.2],[7.7,.2],[7.7,2.6],[7.7,5],[7.7,7],[8.4,-5],[8.4,-2.6],[8.4,-.2],[8.4,2.2],[8.4,4.6],[8.4,7],[8.4,8],[9.1,-5.4],[9.1,-3],[9.1,-.6],[9.1,1.8],[9.1,4.2],[9.1,6.6],[9.1,8.8],[9.8,-5.2],[9.8,-2.8],[9.8,-.4],[9.8,2],[9.8,4.4],[9.8,6.8],[10.5,-5.6],[10.5,-3.2],[10.5,-.8],[10.5,1.6],[10.5,4],[10.5,5.6],[11.2,-5.8],[11.2,-3.4],[11.2,-1],[11.2,1.4],[11.2,3.8],[11.2,5.4],[11.9,-6.4],[11.9,-4],[11.9,-1.6],[11.9,.8],[11.9,3.2],[11.9,5.6],[12.6,-7],[12.6,-4.6],[12.6,-2.2],[12.6,.2],[12.6,2.6],[12.6,3.8],[13.3,-6.8],[13.3,-4.4],[13.3,-2],[13.3,.4],[13.3,2.8],[14,-7.8],[14,-5.4],[14,-3],[14,-.6],[14,1.8],[14,3.6],[14.7,-9],[14.7,-6.6],[14.7,-4.2],[14.7,-1.8],[14.7,.6],[14.7,3],[15.4,-9.6],[15.4,-7.2],[15.4,-4.8],[15.4,-2.4],[15.4,0],[15.4,1.6],[16.1,-9],[16.1,-6.6],[16.1,-4.2],[16.1,-1.8],[16.1,.6],[16.8,-6.8],[16.8,-4.4],[16.8,-2],[16.8,.4],[17.5,-6.4],[17.5,-4],[17.5,-1.6],[17.5,.2],[18.2,-7],[18.2,-4.6],[18.2,-2.2],[18.2,-.4],[18.9,-7.8],[18.9,-5.4],[18.9,-3],[18.9,-1],[19.6,-8.4],[19.6,-6],[19.6,-3.6],[19.6,-1.4],[20.3,-8],[20.3,-5.6],[20.3,-3.4],[21,-7],[21,-4.8],[21,-3.4]];
const coreH=[[4.55,.6],[5.25,.2],[5.25,2.4],[5.95,-1],[5.95,1.4],[5.95,3.6],[6.65,-1.6],[6.65,.8],[6.65,3.2],[7.35,-2.6],[7.35,-.2],[7.35,2.2],[7.35,4.6],[7.35,6.4],[8.05,-3.4],[8.05,-1],[8.05,1.4],[8.05,3.8],[8.05,6.2],[8.75,-3.8],[8.75,-1.4],[8.75,1],[8.75,3.4],[8.75,5.8],[8.75,8],[9.45,-4.2],[9.45,-1.8],[9.45,.6],[9.45,3],[9.45,5.4],[9.45,7.6],[10.15,-4],[10.15,-1.6],[10.15,.8],[10.15,3.2],[10.15,5.6],[10.85,-4.4],[10.85,-2],[10.85,.4],[10.85,2.8],[10.85,4.8],[11.55,-4.6],[11.55,-2.2],[11.55,.2],[11.55,2.6],[11.55,4.8],[12.25,-5.2],[12.25,-2.8],[12.25,-.4],[12.25,2],[12.25,4.2],[12.95,-5.8],[12.95,-3.4],[12.95,-1],[12.95,1.4],[12.95,3],[13.65,-5.6],[13.65,-3.2],[13.65,-.8],[13.65,1.6],[13.65,3],[14.35,-6.6],[14.35,-4.2],[14.35,-1.8],[14.35,.6],[14.35,2.8],[15.05,-7.8],[15.05,-5.4],[15.05,-3],[15.05,-.6],[15.05,1.8],[15.75,-8.4],[15.75,-6],[15.75,-3.6],[15.75,-1.2],[15.75,.8],[16.45,-7.8],[16.45,-5.4],[16.45,-3],[16.45,-.6],[17.15,-5.6],[17.15,-3.2],[17.15,-.8],[17.85,-5.2],[17.85,-2.8],[17.85,-.6],[18.55,-5.8],[18.55,-3.4],[18.55,-1.2],[19.25,-6.6],[19.25,-4.2],[19.25,-2],[19.95,-7.2],[19.95,-4.8],[19.95,-2.6],[20.65,-6.8],[20.65,-4.6]];

const panels=[
{id:'a',letter:'A',letterPos:[2,32],box:[104.3,390.7,50,338],yDomain:[0,40],yTicks:yTicksScatter,series:[seriesA,coreA],limits:null,annot:[['r',' = 0.916,',128,83],['p',' < 0.001',127,118]],yTitle:[['AMSA_FFT_AVF',49]],yTitleCy:195,xTitle:[['AMSA_FFT_UVF',408]],xTitleCx:248,tickBase:367,yTickRight:88},
{id:'b',letter:'B',letterPos:[421,32],box:[516,806.7,50.7,339.3],yDomain:[-20,60],yTicks:yTicksDiff,series:[seriesB,coreB],limits:limitsB,annot:[['Mean',' = 0.396,',553,83],['SD',' = 1.806',572,118]],yTitle:[['Difference of AMSA_FFT_AVF',436],['and AMSA_FFT_UVF',463]],yTitleCy:205,xTitle:[['Mean of AMSA_FFT_AVF and',400],['AMSA_FFT_UVF',428]],xTitleCx:654,tickBase:369,yTickRight:500},
{id:'c',letter:'C',letterPos:[832,32],box:[929,1217.5,50.7,338],yDomain:[0,160],yTicks:yTicksWide,series:[seriesC,coreC],limits:null,annot:[['r',' = 0.645,',968,83],['p',' < 0.001',967,118]],yTitle:[['AMSA_FFT_SVF',865]],yTitleCy:193,xTitle:[['AMSA_FFT_UVF',408]],xTitleCx:1073,tickBase:368,yTickRight:912},
{id:'d',letter:'D',letterPos:[1243,32],box:[1342,1633,49.3,339.3],yDomain:[-20,60],yTicks:yTicksDiff,series:[seriesD,coreD],limits:limitsD,annot:[['Mean',' = 7.604,',1353,83],['SD',' = 9.440',1353,118]],yTitle:[['Difference of AMSA_FFT_SVF',1262],['and AMSA_FFT_UVF',1289]],yTitleCy:205,xTitle:[['Mean of AMSA_FFT_SVF and',400],['AMSA_FFT_UVF',428]],xTitleCx:1487,tickBase:369,yTickRight:1327},
{id:'e',letter:'E',letterPos:[3,477],box:[102.3,390,485.7,771],yDomain:[0,40],yTicks:yTicksScatter,series:[seriesE,coreE],limits:null,annot:[['r',' = 0.702,',245,723],['p',' < 0.001',245,758]],yTitle:[['AMSA_ADF_SVF',48]],yTitleCy:628,xTitle:[['AMSA_FFT_UVF',846]],xTitleCx:248,tickBase:800,yTickRight:87},
{id:'f',letter:'F',letterPos:[419,477],box:[514,804,483,773],yDomain:[-20,60],yTicks:yTicksDiff,series:[seriesF,coreF],limits:limitsF,annot:[['Mean',' = -0.023,',527,517],['SD',' = 4.537',527,552]],yTitle:[['Difference of AMSA_ADF_SVF',435],['and AMSA_FFT_UVF',463]],yTitleCy:638,xTitle:[['Mean of AMSA_ADF_SVF and',834],['AMSA_FFT_UVF',863]],xTitleCx:639,tickBase:802,yTickRight:497},
{id:'g',letter:'G',letterPos:[831,477],box:[928.7,1218.3,480.7,772.7],yDomain:[0,40],yTicks:yTicksScatter,series:[seriesG,coreG],limits:null,annot:[['r',' = 0.804,',963,517],['p',' < 0.001',963,552]],yTitle:[['AMSA_CNN_SVF',873]],yTitleCy:628,xTitle:[['AMSA_FFT_UVF',847]],xTitleCx:1073,tickBase:802,yTickRight:913},
{id:'h',letter:'H',letterPos:[1241,477],box:[1341.3,1632,482.7,771.7],yDomain:[-20,60],yTicks:yTicksDiff,series:[seriesH,coreH],limits:limitsH,annot:[['Mean',' = -1.297,',1353,517],['SD',' = 2.659',1353,552]],yTitle:[['Difference of AMSA_CNN_SVF',1260],['and AMSA_FFT_UVF',1288]],yTitleCy:639,xTitle:[['Mean of AMSA_CNN_SVF and',834],['AMSA_FFT_UVF',863]],xTitleCx:1486,tickBase:802,yTickRight:1323}
];

const NS='http://www.w3.org/2000/svg';
const figure=document.getElementById('figure');
const STROKE=3.8, TICK=11.5, DOT=4.3, BLUE='#0000f5', INK='#0a0a0a';

function make(parent,tag,attrs,text){
  const node=document.createElementNS(NS,tag);
  for(const k in attrs){node.setAttribute(k,attrs[k]);}
  if(text!==undefined){node.textContent=text;}
  parent.appendChild(node);
  return node;
}
function line(parent,x1,y1,x2,y2,w){
  return make(parent,'line',{x1:x1,y1:y1,x2:x2,y2:y2,stroke:INK,'stroke-width':w||STROKE});
}

panels.forEach(function(p){
  const left=p.box[0],right=p.box[1],top=p.box[2],bottom=p.box[3];
  const xScale=function(v){return left+(v-xTicks[0])/(xTicks[xTicks.length-1]-xTicks[0])*(right-left);};
  const yScale=function(v){return bottom-(v-p.yDomain[0])/(p.yDomain[1]-p.yDomain[0])*(bottom-top);};

  const g=make(figure,'g',{});
  
  

  const letter=make(g,'text',{x:p.letterPos[0],y:p.letterPos[1],class:'letter'},p.letter);
  
  

  const pointsGroup=make(g,'g',{});
  
  
  p.series.forEach(function(values){
    values.forEach(function(pt){
      const c=make(pointsGroup,'circle',{cx:xScale(pt[0]).toFixed(1),cy:yScale(pt[1]).toFixed(1),r:DOT,fill:BLUE});
      
      
    });
  });

  const axes=make(g,'g',{});
  
  
  line(axes,left,top,right+2,top);
  line(axes,left,top-1.9,left,bottom+TICK);
  line(axes,right,top-2.5,right,bottom+TICK);
  line(axes,left-TICK,bottom,right+2,bottom);

  xTicks.forEach(function(t){
    const x=xScale(t);
    line(axes,x,bottom,x,bottom+TICK);
    const lab=make(g,'text',{x:x-(t===0?2:0),y:p.tickBase,'text-anchor':'middle',class:'tick'},String(t));
    
    
  });
  p.yTicks.forEach(function(t){
    const y=yScale(t);
    line(axes,left-TICK,y,left,y);
    const lab=make(g,'text',{x:p.yTickRight,y:y+7,'text-anchor':'end',class:'tick'},String(t));
    
    
  });

  if(p.limits){
    const zero=line(g,left-TICK,yScale(0),right,yScale(0),3.8);
    
    
    p.limits.forEach(function(v){
      const y=yScale(v);
      line(axes,left-TICK,y,left,y);
      const d=make(g,'line',{x1:left+9,y1:y,x2:right,y2:y,stroke:INK,'stroke-width':3.6,'stroke-linecap':'round','stroke-dasharray':'0 11.1'});
      
      
    });
  }

  p.annot.forEach(function(a){
    const t=make(g,'text',{x:a[2],y:a[3],class:'annot'});
    
    
    make(t,'tspan',{'font-style':'italic'},a[0]);
    make(t,'tspan',{},a[1]);
  });

  p.yTitle.forEach(function(row){
    const t=make(g,'text',{x:0,y:0,'text-anchor':'middle',class:'title',transform:'translate('+row[1]+','+p.yTitleCy+') rotate(-90)'},row[0]);
    
    
  });
  p.xTitle.forEach(function(row){
    const t=make(g,'text',{x:p.xTitleCx,y:row[1],'text-anchor':'middle',class:'title'},row[0]);
    
    
  });
});
</script>
</body>
</html>
